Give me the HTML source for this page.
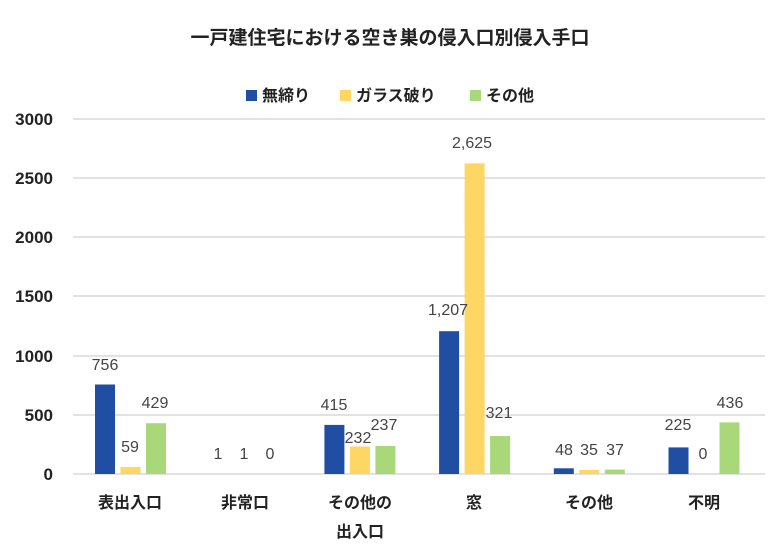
<!DOCTYPE html>
<html><head><meta charset="utf-8"><style>
body{margin:0;background:#fff}
svg{display:block}
text{font-family:"Liberation Sans","Noto Sans CJK JP",sans-serif}
</style></head><body>
<svg width="780" height="559" viewBox="0 0 780 559">
<rect width="780" height="559" fill="#fff"/>
<text x="390" y="44" text-anchor="middle" font-size="19" font-weight="bold" fill="#222">一戸建住宅における空き巣の侵入口別侵入手口</text>
<g font-size="16" font-weight="bold" fill="#222">
<rect x="246" y="90" width="11" height="11" fill="#1f4ea3"/><text x="262" y="101">無締り</text>
<rect x="340" y="90" width="11" height="11" fill="#fdd663"/><text x="356" y="101">ガラス破り</text>
<rect x="470" y="90" width="11" height="11" fill="#a8d87a"/><text x="486" y="101">その他</text>
</g>
<g stroke="#d9d9d9" stroke-width="1.5">
<line x1="73" x2="765" y1="119" y2="119"/><line x1="73" x2="765" y1="178" y2="178"/>
<line x1="73" x2="765" y1="237" y2="237"/><line x1="73" x2="765" y1="296" y2="296"/>
<line x1="73" x2="765" y1="356" y2="356"/><line x1="73" x2="765" y1="415" y2="415"/>
<line x1="73" x2="765" y1="474" y2="474"/>
</g>
<g font-size="17" font-weight="bold" fill="#222" text-anchor="end">
<text x="53" y="125">3000</text><text x="53" y="184">2500</text><text x="53" y="243">2000</text>
<text x="53" y="302">1500</text><text x="53" y="362">1000</text><text x="53" y="421">500</text><text x="53" y="480">0</text>
</g>
<g>
<rect x="95" y="384.5" width="20" height="89.5" fill="#1f4ea3"/>
<rect x="120.5" y="467" width="20" height="7" fill="#fdd663"/>
<rect x="146" y="423.2" width="20" height="50.8" fill="#a8d87a"/>
<rect x="324.4" y="424.9" width="20" height="49.1" fill="#1f4ea3"/>
<rect x="349.9" y="446.5" width="20" height="27.5" fill="#fdd663"/>
<rect x="375.4" y="446" width="20" height="28" fill="#a8d87a"/>
<rect x="439.1" y="331.2" width="20" height="142.8" fill="#1f4ea3"/>
<rect x="464.6" y="163.4" width="20" height="310.6" fill="#fdd663"/>
<rect x="490.1" y="436" width="20" height="38" fill="#a8d87a"/>
<rect x="553.8" y="468.3" width="20" height="5.7" fill="#1f4ea3"/>
<rect x="579.3" y="469.9" width="20" height="4.1" fill="#fdd663"/>
<rect x="604.8" y="469.6" width="20" height="4.4" fill="#a8d87a"/>
<rect x="668.5" y="447.4" width="20" height="26.6" fill="#1f4ea3"/>
<rect x="719.5" y="422.4" width="20" height="51.6" fill="#a8d87a"/>
</g>
<g font-size="16" fill="#444" text-anchor="middle">
<text x="105" y="370">756</text><text x="130" y="452">59</text><text x="155" y="408">429</text>
<text x="218" y="459">1</text><text x="244" y="459">1</text><text x="270" y="459">0</text>
<text x="334" y="410">415</text><text x="358" y="443">232</text><text x="384" y="430">237</text>
<text x="448" y="315">1,207</text><text x="472" y="148">2,625</text><text x="499" y="418">321</text>
<text x="564" y="455">48</text><text x="589" y="455">35</text><text x="615" y="455">37</text>
<text x="678" y="430">225</text><text x="703" y="459">0</text><text x="730" y="408">436</text>
</g>
<g font-size="16" font-weight="bold" fill="#222" text-anchor="middle">
<text x="130" y="508">表出入口</text><text x="245" y="508">非常口</text>
<text x="360" y="508">その他の</text><text x="360" y="537">出入口</text>
<text x="474" y="508">窓</text><text x="589" y="508">その他</text><text x="704" y="508">不明</text>
</g>
</svg>
</body></html>
